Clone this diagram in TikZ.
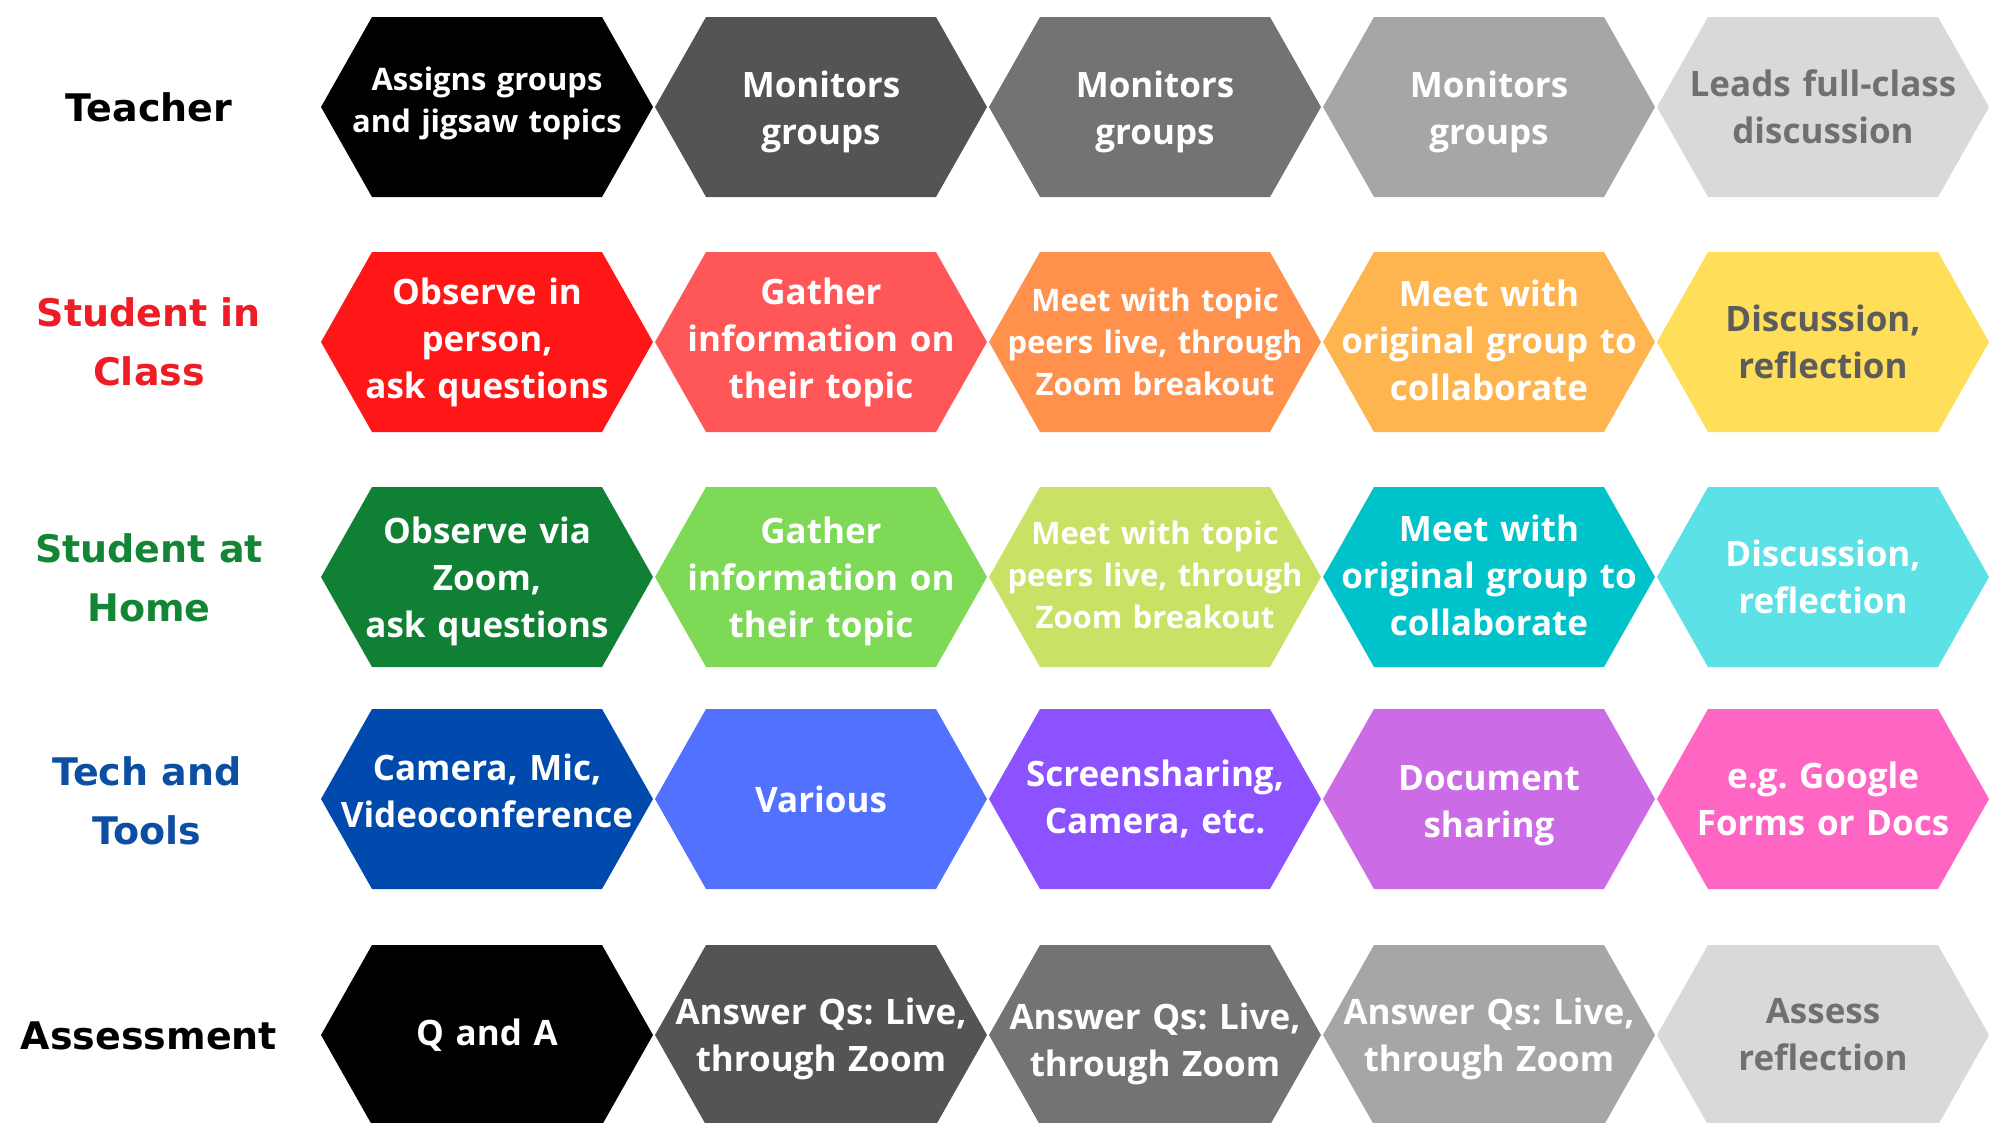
\documentclass[tikz,border=0pt]{standalone}
\usepackage{fontspec}
\frenchspacing
\newfontfamily\hexfont{Open Sans}
\newfontfamily\labfont{DejaVu Sans}
\definecolor{k0}{HTML}{000000}
\definecolor{k1}{HTML}{545454}
\definecolor{k2}{HTML}{737373}
\definecolor{k3}{HTML}{A6A6A6}
\definecolor{k4}{HTML}{D9D9D9}
\definecolor{r1}{HTML}{FF1616}
\definecolor{r2}{HTML}{FF5757}
\definecolor{r3}{HTML}{FF914D}
\definecolor{r4}{HTML}{FFB54F}
\definecolor{r5}{HTML}{FFDE59}
\definecolor{g1}{HTML}{0F8034}
\definecolor{g2}{HTML}{7ED957}
\definecolor{g3}{HTML}{C9E265}
\definecolor{g4}{HTML}{00C2CB}
\definecolor{g5}{HTML}{5CE1E6}
\definecolor{b1}{HTML}{004AAD}
\definecolor{b2}{HTML}{5271FF}
\definecolor{b3}{HTML}{8C52FF}
\definecolor{b4}{HTML}{CB6CE6}
\definecolor{b5}{HTML}{FF66C4}
\definecolor{labred}{HTML}{EE1C24}
\definecolor{labgreen}{HTML}{138636}
\definecolor{labblue}{HTML}{0B4EA2}
\definecolor{graytext}{HTML}{707070}
\definecolor{yeltext}{HTML}{5C5C5C}
\newcommand\hexcell[6][]{%
  \fill[#5] ({#3-166},{#4}) -- ({#3-115},{#4-90}) -- ({#3+115},{#4-90}) -- ({#3+166},{#4}) -- ({#3+115},{#4+90}) -- ({#3-115},{#4+90}) -- cycle;
  \node[cell,#1] (#2) at (#3,#4) {#6};}
\tikzset{
  cell/.style={minimum width=332pt, minimum height=180pt, inner sep=0pt, text width=330pt, align=center, text=white, font=\hexfont\bfseries\fontsize{35}{47}\selectfont},
  smalltext/.style={font=\hexfont\bfseries\fontsize{31}{42}\selectfont},
  lab/.style={align=center, font=\labfont\bfseries\fontsize{38}{59}\selectfont},
}
\begin{document}
\begin{tikzpicture}[x=1pt,y=-1pt]
\useasboundingbox (0,0) rectangle (1992,1122);
\clip (0,0) rectangle (1992,1122);
\fill[white] (0,0) rectangle (1992,1122);
% row labels
\node[lab] (lteacher) at (149,107) {Teacher};
\node[lab, text=labred] (lclass) at (149,342) {Student in\\Class};
\node[lab, text=labgreen] (lhome) at (149,578) {Student at\\Home};
\node[lab, text=labblue] (ltech) at (147,801) {Tech and\\Tools};
\node[lab] (lassess) at (149,1036) {Assessment};
% row 1
\hexcell[smalltext,yshift=4pt]{t1}{487}{107}{k0}{Assigns groups\\and jigsaw topics}
\hexcell[yshift=-5pt]{t2}{821}{107}{k1}{Monitors\\groups}
\hexcell[yshift=-5pt]{t3}{1155}{107}{k2}{Monitors\\groups}
\hexcell[yshift=-5pt]{t4}{1489}{107}{k3}{Monitors\\groups}
\hexcell[text=graytext]{t5}{1823}{107}{k4}{Leads full-class\\discussion}
% row 2
\hexcell{c1}{487}{342}{r1}{Observe in\\person,\\ask questions}
\hexcell{c2}{821}{342}{r2}{Gather\\information on\\their topic}
\hexcell[smalltext]{c3}{1155}{342}{r3}{Meet with topic\\peers live, through\\Zoom breakout}
\hexcell[yshift=2pt]{c4}{1489}{342}{r4}{Meet with\\original group to\\collaborate}
\hexcell[text=yeltext]{c5}{1823}{342}{r5}{Discussion,\\reflection}
% row 3
\hexcell[yshift=-4pt]{h1}{487}{577}{g1}{Observe via\\Zoom,\\ask questions}
\hexcell[yshift=-4pt]{h2}{821}{577}{g2}{Gather\\information on\\their topic}
\hexcell[smalltext,yshift=2pt]{h3}{1155}{577}{g3}{Meet with topic\\peers live, through\\Zoom breakout}
\hexcell[yshift=2pt]{h4}{1489}{577}{g4}{Meet with\\original group to\\collaborate}
\hexcell{h5}{1823}{577}{g5}{Discussion,\\reflection}
% row 4
\hexcell[yshift=8pt]{o1}{487}{799}{b1}{Camera, Mic,\\Videoconference}
\hexcell{o2}{821}{799}{b2}{Various}
\hexcell{o3}{1155}{799}{b3}{Screensharing,\\Camera, etc.}
\hexcell[yshift=-7pt]{o4}{1489}{799}{b4}{Document\\sharing}
\hexcell{o5}{1823}{799}{b5}{e.g. Google\\Forms or Docs}
% row 5
\hexcell{a1}{487}{1035}{k0}{Q and A}
\hexcell[yshift=-4pt]{a2}{821}{1035}{k1}{Answer Qs: Live,\\through Zoom}
\hexcell[yshift=-9pt]{a3}{1155}{1035}{k2}{Answer Qs: Live,\\through Zoom}
\hexcell[yshift=-4pt]{a4}{1489}{1035}{k3}{Answer Qs: Live,\\through Zoom}
\hexcell[text=graytext]{a5}{1823}{1035}{k4}{Assess\\reflection}
\end{tikzpicture}
\end{document}
